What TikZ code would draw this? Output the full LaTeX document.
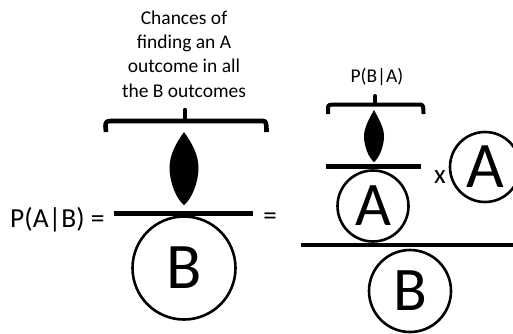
\documentclass[tikz,border=0pt]{standalone}
\usepackage{fontspec}
\setmainfont{Carlito}
\tikzset{
 bar/.style={line width=4.5pt},
 brace/.style={line width=4.6pt,line join=round},
 lensf/.style={fill=black,draw=none},
 circ/.style={circle,draw,line width=2.6pt,inner sep=0pt,text=black},
 lab/.style={inner sep=0pt,align=center,font=\fontsize{19.5pt}{24.2pt}\selectfont},
 big/.style={font=\fontsize{#1}{#1}\selectfont}
}
\begin{document}
\begin{tikzpicture}[x=1pt,y=-1pt]
\useasboundingbox (0,0) rectangle (513,333);
\fill[white] (0,0) rectangle (513,333);
% left
\node[lab] (title) at (184,54) {Chances of\\finding an A\\outcome in all\\the B outcomes};
\draw[brace] (106,132) -- (105.5,126) .. controls (105.5,122) and (107,121) .. (111,121) -- (263,121) .. controls (266,121) and (266.5,123) .. (266.5,132);
\draw[brace,line cap=round] (185,120) -- (185,110);
\fill[lensf] (184,132) .. controls (176,143) and (169.5,155) .. (169.5,168) .. controls (169.5,183) and (177,200) .. (184,205) .. controls (191,200) and (198.5,183) .. (198.5,168) .. controls (198.5,155) and (192,143) .. (184,132) -- cycle;
\draw[bar] (114,213.5) -- (253,213.5);
\node[circ,minimum size=103pt,big=65pt] (B1) at (184,268) {B};
\node[lab,anchor=west,big=27.5pt] (pab) at (10,220) {P(A|B) =};
\node[lab,big=27pt] (eq) at (270,219) {=};
% right
\node[lab] (pba) at (377,77) {P(B|A)};
\draw[brace,line width=4pt] (328,114) -- (328,109) .. controls (328,105) and (329,104.5) .. (332,104.5) -- (420,104.5) .. controls (423,104.5) and (423.5,106) .. (423.5,114);
\draw[brace,line width=4pt,line cap=round] (375,104) -- (375,96);
\fill[lensf] (374,110) .. controls (369,119) and (364,128) .. (364,136) .. controls (364,147) and (369,158) .. (374,162) .. controls (379,158) and (384,147) .. (384,136) .. controls (384,128) and (379,119) .. (374,110) -- cycle;
\draw[bar] (326,166.5) -- (421,166.5);
\node[circ,minimum size=71pt,big=62pt] (A1) at (373,206) {A};
\node[lab,big=27pt] (x) at (440,177) {x};
\node[circ,minimum size=70pt,big=65pt] (A2) at (485,167) {A};
\draw[bar] (301,245) -- (513,245);
\node[circ,minimum size=82pt,big=62pt] (B2) at (410,291) {B};
\end{tikzpicture}
\end{document}
